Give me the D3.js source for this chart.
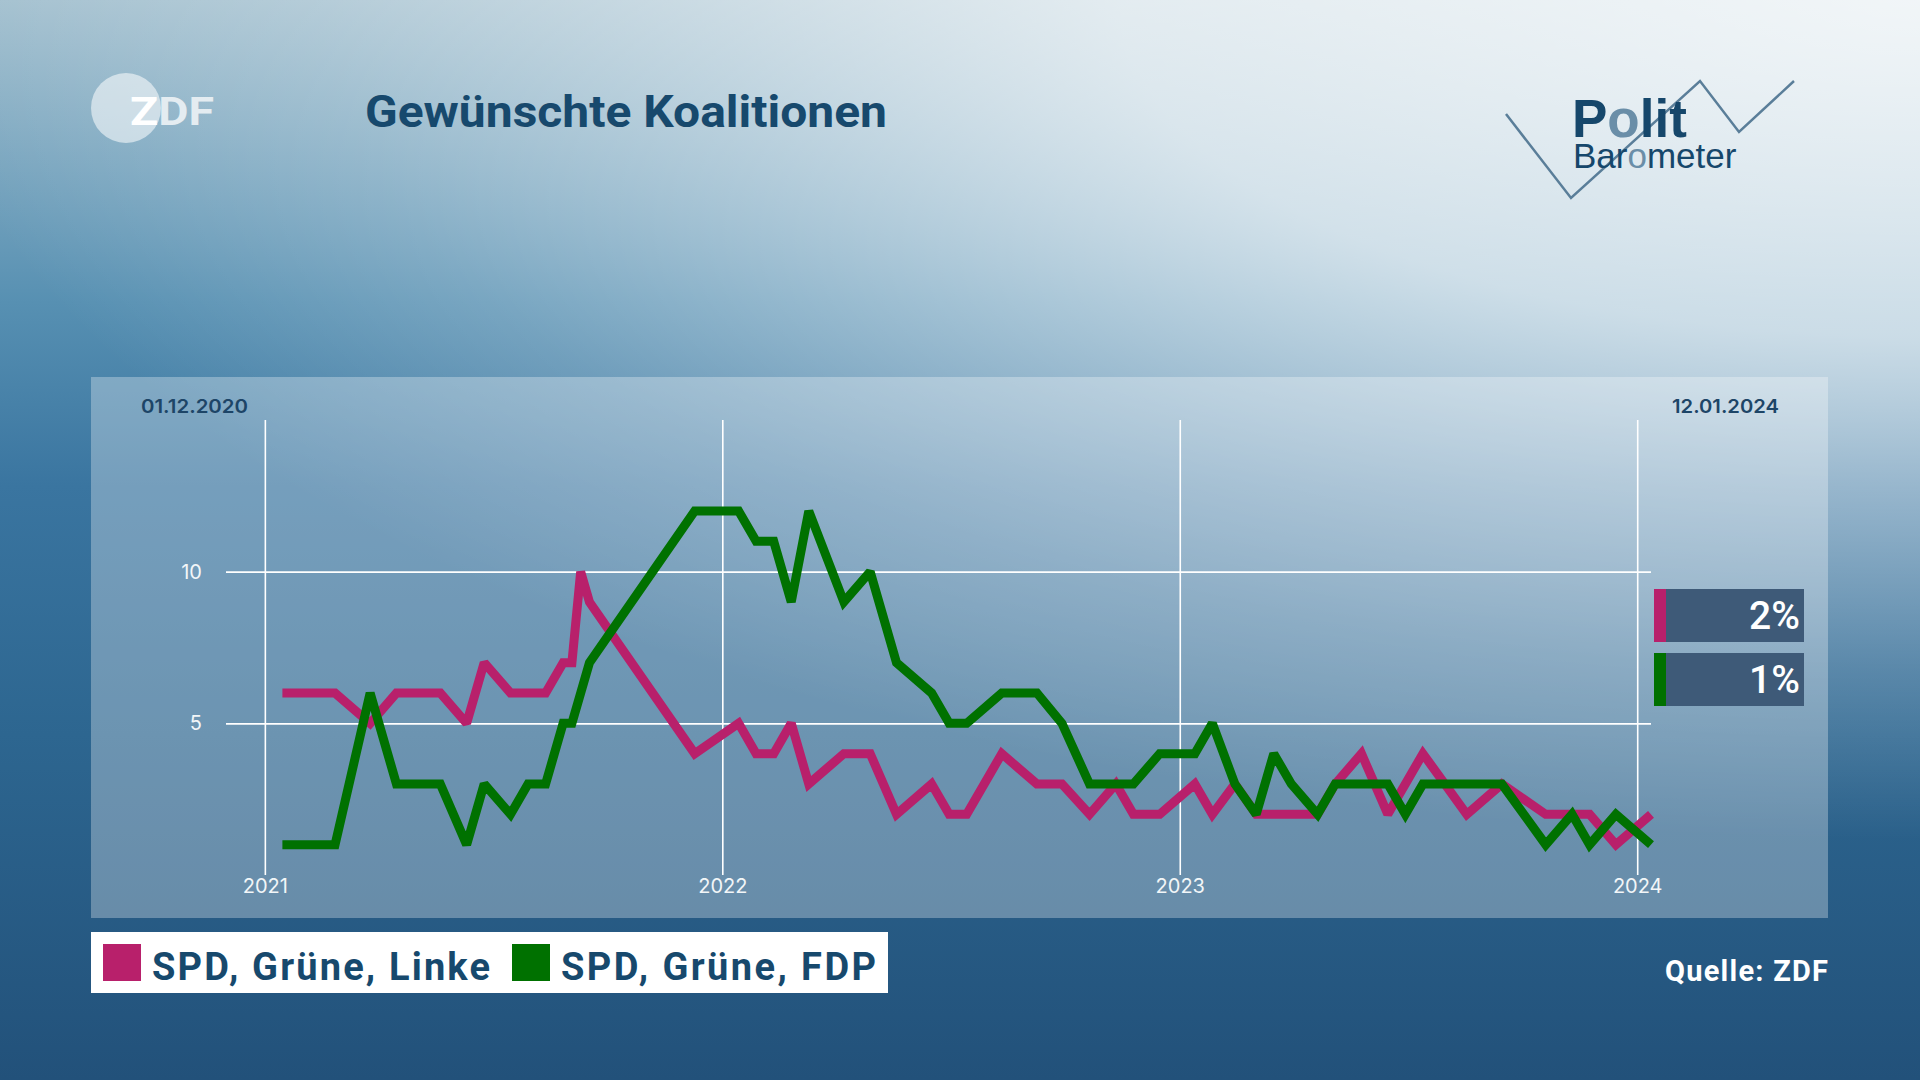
<!DOCTYPE html>
<html>
<head>
<meta charset="utf-8">
<script src="https://cdn.jsdelivr.net/npm/d3@7"></script>
<style>
    body { margin: 0; overflow: hidden; background: #24567e; }
    svg { display: block; font-family: Roboto, "Noto Sans", sans-serif; }
</style>
</head>
<body>
<div id="chart-area"></div>
<script>
// Poll dates (Politbarometer) and values in percent
const pollDates = [
    "2021-01-15", "2021-02-26", "2021-03-26", "2021-04-16", "2021-05-21", "2021-06-11",
    "2021-06-25", "2021-07-16", "2021-07-30", "2021-08-13", "2021-08-27", "2021-09-03",
    "2021-09-10", "2021-09-17", "2021-12-10", "2022-01-14", "2022-01-28", "2022-02-11",
    "2022-02-25", "2022-03-11", "2022-04-08", "2022-04-29", "2022-05-20", "2022-06-17",
    "2022-07-01", "2022-07-15", "2022-08-12", "2022-09-09", "2022-09-29", "2022-10-21",
    "2022-11-11", "2022-11-25", "2022-12-16", "2023-01-13", "2023-01-27", "2023-02-14",
    "2023-03-03", "2023-03-17", "2023-03-31", "2023-04-21", "2023-05-05", "2023-05-26",
    "2023-06-16", "2023-06-30", "2023-07-14", "2023-08-18", "2023-09-15", "2023-10-20",
    "2023-11-10", "2023-11-24", "2023-12-15", "2024-01-12",
];
const spdGrueneLinke = [
    6, 6, 5, 6, 6, 5, 7, 6, 6, 6, 7, 7, 10, 9, 4, 5, 4, 4, 5, 3, 4, 4, 2, 3, 2, 2,
    4, 3, 3, 2, 3, 2, 2, 3, 2, 3, 2, 2, 2, 2, 3, 4, 2, 3, 4, 2, 3, 2, 2, 2, 1, 2,
];
const spdGrueneFdp = [
    1, 1, 6, 3, 3, 1, 3, 2, 3, 3, 5, 5, 6, 7, 12, 12, 11, 11, 9, 12, 9, 10, 7, 6, 5, 5,
    6, 6, 5, 3, 3, 3, 4, 4, 5, 3, 2, 4, 3, 2, 3, 3, 3, 2, 3, 3, 3, 1, 2, 1, 2, 1,
];

const seriesNames = ["SPD, Grüne, Linke", "SPD, Grüne, FDP"];
const seriesColors = ["#b8206b", "#007100"];

const xDomain = ["2020-12-01", "2024-01-12"];
const xTickDates = ["2021-01-01", "2022-01-01", "2023-01-01", "2024-01-01"];
const yDomain = [0, 15];
const yTickValues = [5, 10];

const title = "Gewünschte Koalitionen";
const source = "Quelle: ZDF";

const parseDate = d3.timeParse("%Y-%m-%d");
const fmtDay = d3.timeFormat("%d.%m.%Y");

const W = 1920, H = 1080;
const plot = { left: 226, right: 1651, top: 420, bottom: 875 };

const svg = d3.select("#chart-area").append("svg")
    .attr("width", W).attr("height", H);

const defs = svg.append("defs");

//Background gradients
const bg = defs.append("linearGradient").attr("id", "bg")
    .attr("x1", 0).attr("y1", 0).attr("x2", 0).attr("y2", 1);
[[0, "#a3c0cf"], [0.28, "#5790b2"], [0.45, "#3a75a0"], [0.68, "#2d6690"], [1, "#22517a"]]
    .forEach(([o, c]) => bg.append("stop").attr("offset", o).attr("stop-color", c));

const glow = defs.append("radialGradient").attr("id", "glow")
    .attr("gradientUnits", "userSpaceOnUse")
    .attr("cx", 1920).attr("cy", 0).attr("r", 2000)
    .attr("gradientTransform", "translate(1920 0) scale(1 0.42) translate(-1920 0)");
[[0, 0.85], [0.4, 0.7], [0.6, 0.45], [0.8, 0.2], [1, 0]]
    .forEach(([o, a]) => glow.append("stop").attr("offset", o)
        .attr("stop-color", "#ffffff").attr("stop-opacity", a));

svg.append("rect").attr("width", W).attr("height", H).attr("fill", "url(#bg)");
svg.append("rect").attr("width", W).attr("height", H).attr("fill", "url(#glow)");

//ZDF logo
svg.append("circle").attr("cx", 126).attr("cy", 108).attr("r", 35)
    .attr("fill", "#ffffff").attr("opacity", 0.55);
const zdf = svg.append("text").attr("x", 130).attr("y", 125)
    .attr("font-size", 38).attr("font-weight", 700)
    .attr("fill", "#ffffff").attr("textLength", 84).attr("lengthAdjust", "spacingAndGlyphs");
zdf.append("tspan").text("Z");
zdf.append("tspan").attr("fill", "#e4ecf1").text("DF");

//Title
svg.append("text").attr("x", 365).attr("y", 127)
    .attr("font-size", 45).attr("font-weight", 700).attr("fill", "#17496d")
    .attr("textLength", 522).attr("lengthAdjust", "spacingAndGlyphs")
    .text(title);

//Politbarometer logo
const zig = [[1506, 114], [1571, 198], [1700, 81], [1739, 132], [1794, 81]];
svg.append("path").attr("d", d3.line()(zig))
    .attr("fill", "none").attr("stroke", "#5a7e99").attr("stroke-width", 2.5);
const logo = svg.append("text")
    .attr("font-family", "'Liberation Sans', Arial, sans-serif")
    .attr("fill", "#16476b");
logo.append("tspan").attr("x", 1572).attr("y", 137)
    .attr("font-size", 53).attr("font-weight", 700).text("P");
logo.append("tspan").attr("font-size", 53).attr("font-weight", 700)
    .attr("fill", "#6a8ea8").text("o");
logo.append("tspan").attr("font-size", 53).attr("font-weight", 700).text("lit");
logo.append("tspan").attr("x", 1573).attr("y", 168).attr("font-size", 35).text("Bar");
logo.append("tspan").attr("font-size", 35).attr("fill", "#6a8ea8").text("o");
logo.append("tspan").attr("font-size", 35).text("meter");

//Chart panel
svg.append("rect").attr("x", 91).attr("y", 377).attr("width", 1737).attr("height", 541)
    .attr("fill", "#ffffff").attr("opacity", 0.3);

//Scales
const x = d3.scaleTime().domain(xDomain.map(parseDate)).range([plot.left, plot.right]);
const y = d3.scaleLinear().domain(yDomain).range([plot.bottom, plot.top]);

//Axes
const xAxis = svg.append("g").attr("class", "x-axis")
    .attr("transform", `translate(0, ${plot.bottom})`)
    .call(d3.axisBottom(x)
        .tickValues(xTickDates.map(parseDate))
        .tickSize(-(plot.bottom - plot.top))
        .tickPadding(4)
        .tickFormat(d3.timeFormat("%Y")));
const yAxis = svg.append("g").attr("class", "y-axis")
    .attr("transform", `translate(${plot.left}, 0)`)
    .call(d3.axisLeft(y)
        .tickValues(yTickValues)
        .tickSize(-(plot.right - plot.left))
        .tickPadding(24));

[xAxis, yAxis].forEach((ax) => {
    ax.select(".domain").remove();
    ax.selectAll(".tick line").attr("stroke", "#ffffff").attr("stroke-width", 1.6);
    ax.selectAll(".tick text").attr("fill", "#f2f6f8")
        .attr("font-size", 20).attr("font-family", "Inter, Roboto, sans-serif");
});

//Start / end dates
svg.append("text").attr("x", 141).attr("y", 413)
    .attr("font-size", 19).attr("font-weight", 600).attr("fill", "#1d4567")
    .attr("font-family", "Inter, Roboto, sans-serif")
    .attr("textLength", 107).attr("lengthAdjust", "spacingAndGlyphs")
    .text(fmtDay(parseDate(xDomain[0])));
svg.append("text").attr("x", 1672).attr("y", 413)
    .attr("font-size", 19).attr("font-weight", 600).attr("fill", "#1d4567")
    .attr("font-family", "Inter, Roboto, sans-serif")
    .attr("textLength", 107).attr("lengthAdjust", "spacingAndGlyphs")
    .text(fmtDay(parseDate(xDomain[1])));

//Lines
const allSeries = [spdGrueneLinke, spdGrueneFdp];
const line = d3.line()
    .x((d, i) => x(parseDate(pollDates[i])))
    .y((d) => y(d));

allSeries.forEach((values, k) => {
    svg.append("path")
        .datum(values)
        .attr("d", line)
        .attr("fill", "none")
        .attr("stroke", seriesColors[k])
        .attr("stroke-width", 9)
        .attr("stroke-linejoin", "miter")
        .attr("stroke-miterlimit", 2);
});

//Latest value labels
const labelTops = [589, 653];
allSeries.forEach((values, k) => {
    const g = svg.append("g").attr("transform", `translate(1654, ${labelTops[k]})`);
    g.append("rect").attr("width", 150).attr("height", 53).attr("fill", "#3e5a78");
    g.append("rect").attr("width", 12).attr("height", 53).attr("fill", seriesColors[k]);
    g.append("text").attr("x", 146).attr("y", 40).attr("text-anchor", "end")
        .attr("font-size", 39).attr("font-weight", 500).attr("fill", "#ffffff")
        .text(`${values[values.length - 1]}%`);
});

//Legend
const legendTextWidths = [338, 315];
svg.append("rect").attr("x", 91).attr("y", 932).attr("width", 797).attr("height", 61)
    .attr("fill", "#ffffff");
let lx = 103;
seriesNames.forEach((name, k) => {
    svg.append("rect").attr("x", lx).attr("y", 944).attr("width", 38).attr("height", 37)
        .attr("fill", seriesColors[k]);
    svg.append("text").attr("x", lx + 49).attr("y", 980)
        .attr("font-size", 38).attr("font-weight", 700).attr("fill", "#17496d")
        .attr("textLength", legendTextWidths[k]).attr("lengthAdjust", "spacing")
        .text(name);
    lx += 49 + legendTextWidths[k] + 22;
});

//Source
svg.append("text").attr("x", 1665).attr("y", 981)
    .attr("font-size", 29).attr("font-weight", 700).attr("fill", "#ffffff")
    .attr("textLength", 163).attr("lengthAdjust", "spacing")
    .text(source);
</script>
</body>
</html>
